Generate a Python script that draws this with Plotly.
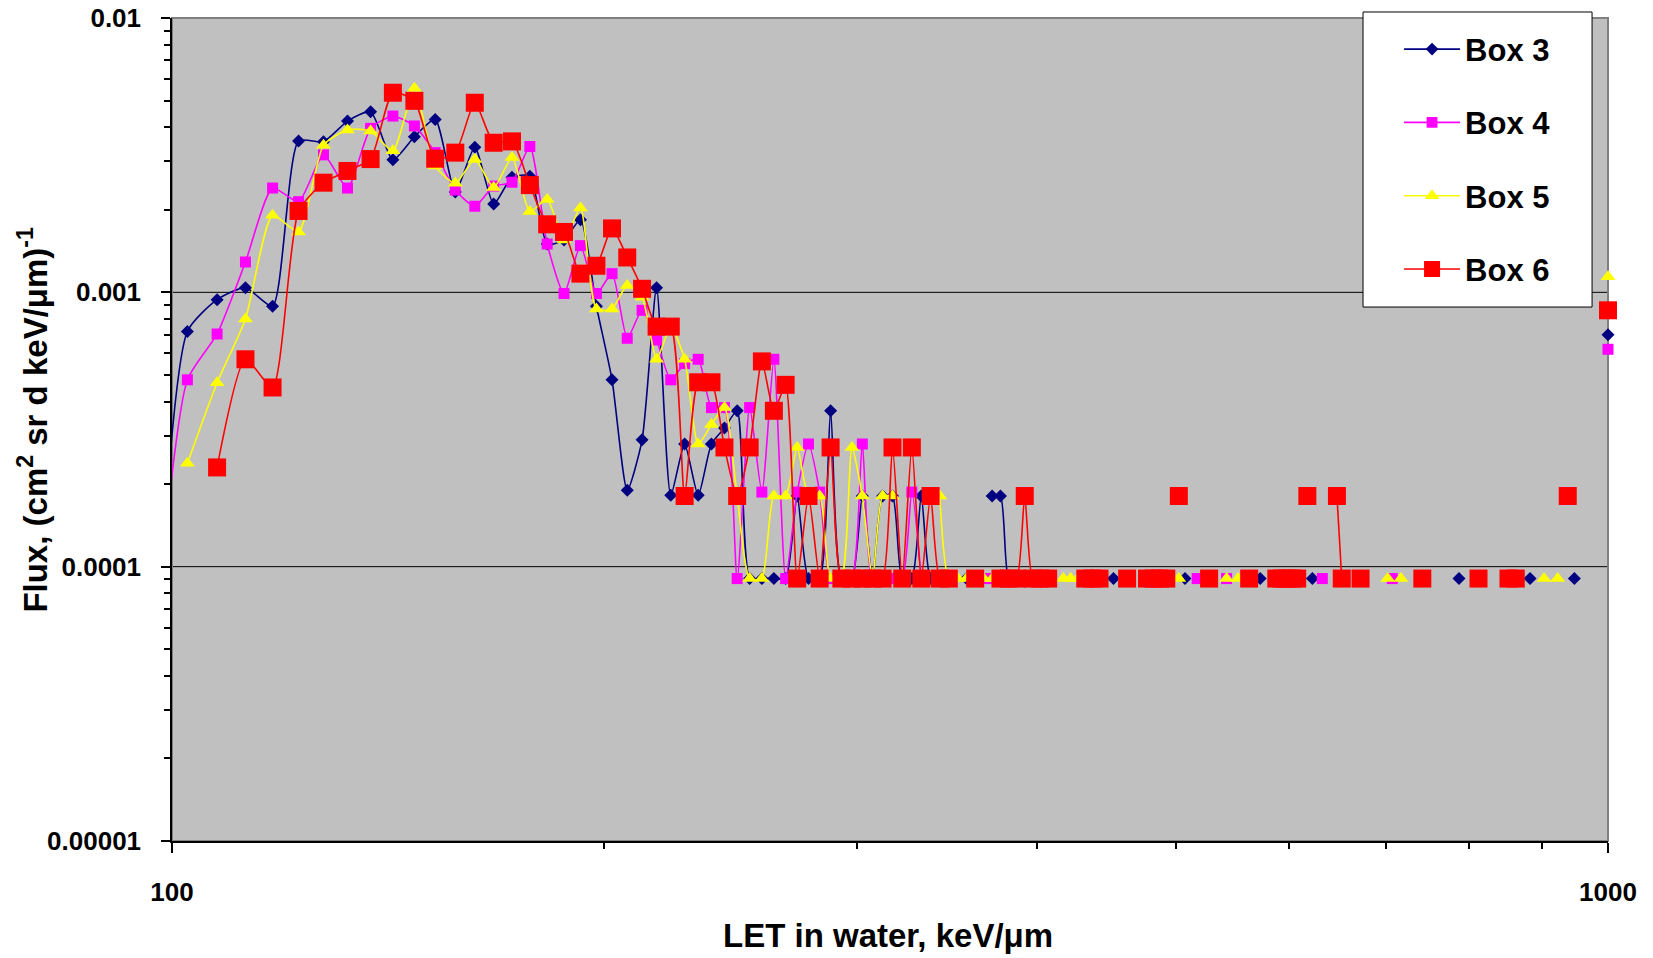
import plotly.graph_objects as go

FONT = "Liberation Sans, Arial, sans-serif"

# ---------------- data (LET bin centre, keV/um  ->  flux) ----------------
box3_let = [97.5, 102.5, 107.5, 112.5, 117.5, 122.5, 127.5, 132.5, 137.5, 142.5, 147.5, 152.5,
            157.5, 162.5, 167.5, 172.5, 177.5, 182.5, 187.5, 192.5, 197.5, 202.5, 207.5, 212.5,
            217.5, 222.5, 227.5, 232.5, 237.5, 242.5, 247.5, 252.5, 257.5, 262.5, 267.5, 272.5,
            277.5, 282.5, 287.5, 292.5, 297.5, 302.5, 307.5, 312.5, 317.5, 322.5, 327.5, 332.5,
            337.5, 342.5, 357.5, 372.5, 377.5, 382.5, 387.5, 452.5, 507.5, 572.5, 622.5, 787.5,
            882.5, 947.5, 1000]
box3_flux = [0.00005, 0.00072, 0.00094, 0.00104, 0.00089, 0.00356, 0.00354, 0.00421, 0.00455, 0.00304, 0.00369, 0.00427,
             0.00232, 0.00338, 0.0021, 0.00263, 0.00265, 0.0015, 0.00155, 0.00184, 0.00089, 0.00048, 0.00019, 0.00029,
             0.00104, 0.000182, 0.00028, 0.000182, 0.00028, 0.00032, 0.00037, 0.0000905, 0.0000905, 0.0000905, 0.0000905, 0.000181,
             0.0000905, 0.0000905, 0.00037, 0.0000905, 0.0000905, 0.000181, 0.0000905, 0.000181, 0.000181, 0.0000905, 0.0000905, 0.000181,
             0.0000905, 0.0000905, 0.0000905, 0.000181, 0.000181, 0.0000905, 0.0000905, 0.0000905, 0.0000905, 0.0000905, 0.0000905, 0.0000905,
             0.0000905, 0.0000905, 0.0007]

box4_let = [97.5, 102.5, 107.5, 112.5, 117.5, 122.5, 127.5, 132.5, 137.5, 142.5, 147.5, 152.5,
            157.5, 162.5, 167.5, 172.5, 177.5, 182.5, 187.5, 192.5, 197.5, 202.5, 207.5, 212.5,
            217.5, 222.5, 227.5, 232.5, 237.5, 242.5, 247.5, 252.5, 257.5, 262.5, 267.5, 272.5,
            277.5, 282.5, 287.5, 292.5, 297.5, 302.5, 307.5, 312.5, 317.5, 322.5, 327.5, 332.5,
            367.5, 372.5, 517.5, 542.5, 632.5, 707.5, 1000]
box4_flux = [0.00006, 0.00048, 0.000705, 0.00129, 0.0024, 0.00214, 0.00317, 0.0024, 0.00396, 0.00439, 0.00404, 0.00323,
             0.00236, 0.00206, 0.00244, 0.00252, 0.0034, 0.0015, 0.00099, 0.00148, 0.00099, 0.00117, 0.00068, 0.00086,
             0.00067, 0.00048, 0.00055, 0.00057, 0.00038, 0.00038, 0.0000905, 0.00038, 0.000187, 0.00057, 0.0000905, 0.000187,
             0.00028, 0.000187, 0.0000905, 0.0000905, 0.0000905, 0.00028, 0.0000905, 0.0000905, 0.0000905, 0.0000905, 0.000187, 0.0000905,
             0.0000905, 0.0000905, 0.0000905, 0.0000905, 0.0000905, 0.0000905, 0.00062]

box5_let = [102.5, 107.5, 112.5, 117.5, 122.5, 127.5, 132.5, 137.5, 142.5, 147.5, 152.5,
            157.5, 162.5, 167.5, 172.5, 177.5, 182.5, 187.5, 192.5, 197.5, 202.5, 207.5, 212.5,
            217.5, 222.5, 227.5, 232.5, 237.5, 242.5, 247.5, 252.5, 257.5, 262.5, 267.5, 272.5,
            277.5, 282.5, 287.5, 292.5, 297.5, 302.5, 307.5, 312.5, 317.5, 342.5, 347.5, 352.5,
            357.5, 362.5, 367.5, 372.5, 417.5, 422.5, 427.5, 502.5, 542.5, 552.5, 702.5, 717.5,
            902.5, 922.5, 1000]
box5_flux = [0.000238, 0.000468, 0.0008, 0.00191, 0.00166, 0.00344, 0.00391, 0.00387, 0.00328, 0.00554, 0.00289,
             0.0025, 0.00305, 0.00241, 0.0031, 0.00197, 0.00218, 0.00155, 0.00203, 0.00087, 0.00087, 0.00106, 0.00096,
             0.00057, 0.00075, 0.00057, 0.00028, 0.00033, 0.00038, 0.00018, 0.0000905, 0.0000905, 0.000181, 0.000181, 0.000272,
             0.000181, 0.000181, 0.0000905, 0.0000905, 0.000272, 0.000181, 0.0000905, 0.000181, 0.000181, 0.000181, 0.0000905, 0.0000905,
             0.0000905, 0.0000905, 0.0000905, 0.0000905, 0.0000905, 0.0000905, 0.0000905, 0.0000905, 0.0000905, 0.0000905, 0.0000905, 0.0000905,
             0.0000905, 0.0000905, 0.00114]

box6_let = [107.5, 112.5, 117.5, 122.5, 127.5, 132.5, 137.5, 142.5, 147.5, 152.5,
            157.5, 162.5, 167.5, 172.5, 177.5, 182.5, 187.5, 192.5, 197.5, 202.5, 207.5, 212.5,
            217.5, 222.5, 227.5, 232.5, 237.5, 242.5, 247.5, 252.5, 257.5, 262.5, 267.5, 272.5,
            277.5, 282.5, 287.5, 292.5, 297.5, 302.5, 307.5, 312.5, 317.5, 322.5, 327.5, 332.5,
            337.5, 342.5, 347.5, 362.5, 377.5, 382.5, 387.5, 392.5, 397.5, 402.5, 407.5, 432.5,
            437.5, 442.5, 462.5, 477.5, 482.5, 487.5, 492.5, 502.5, 527.5, 562.5, 587.5, 592.5,
            597.5, 602.5, 607.5, 617.5, 647.5, 652.5, 672.5, 742.5, 812.5, 852.5, 862.5, 937.5,
            1000]
box6_flux = [0.00023, 0.00057, 0.00045, 0.00198, 0.00251, 0.00277, 0.00306, 0.00534, 0.00499, 0.00307,
             0.00323, 0.00491, 0.00351, 0.00355, 0.00246, 0.00177, 0.00166, 0.00117, 0.00125, 0.00171, 0.00134, 0.00103,
             0.00075, 0.00075, 0.000181, 0.00047, 0.00047, 0.000272, 0.000181, 0.000272, 0.00056, 0.00037, 0.00046, 0.0000905,
             0.000181, 0.0000905, 0.000272, 0.0000905, 0.0000905, 0.0000905, 0.0000905, 0.0000905, 0.000272, 0.0000905, 0.000272, 0.0000905,
             0.000181, 0.0000905, 0.0000905, 0.0000905, 0.0000905, 0.0000905, 0.0000905, 0.000181, 0.0000905, 0.0000905, 0.0000905, 0.0000905,
             0.0000905, 0.0000905, 0.0000905, 0.0000905, 0.0000905, 0.0000905, 0.0000905, 0.000181, 0.0000905, 0.0000905, 0.0000905, 0.0000905,
             0.0000905, 0.0000905, 0.0000905, 0.000181, 0.000181, 0.0000905, 0.0000905, 0.0000905, 0.0000905, 0.0000905, 0.0000905, 0.000181,
             0.00086]

series_names = ["Box 3", "Box 4", "Box 5", "Box 6"]
y_tick_vals = [0.00001, 0.0001, 0.001, 0.01]
y_tick_text = ["0.00001", "0.0001", "0.001", "0.01"]
x_tick_vals = [100, 1000]
x_tick_text = ["100", "1000"]

# ---------------- helpers ----------------
def with_gaps(xs, ys, step=5.0):
    """Empty LET bins are left blank (Excel 'show gaps')."""
    gx, gy = [], []
    for i, (x, y) in enumerate(zip(xs, ys)):
        if i and x - xs[i - 1] > step + 0.01:
            gx.append(None)
            gy.append(None)
        gx.append(x)
        gy.append(y)
    return gx, gy


styles = [
    dict(color="#000080", symbol="diamond", size=10),
    dict(color="#FF00FF", symbol="square", size=11),
    dict(color="#FFFF00", symbol="triangle-up", size=13),
    dict(color="#FF0000", symbol="square", size=18),
]
data = [(box3_let, box3_flux), (box4_let, box4_flux), (box5_let, box5_flux), (box6_let, box6_flux)]

fig = go.Figure()
for name, (xs, ys), st in zip(series_names, data, styles):
    gx, gy = with_gaps(xs, ys)
    sizes = [0 if (x is not None and x < 100) else st["size"] for x in gx]
    fig.add_trace(go.Scatter(
        x=gx, y=gy, name=name, mode="lines+markers",
        legendgroup=name,
        line=dict(color=st["color"], width=1.6, shape="spline", smoothing=0.6),
        marker=dict(color=st["color"], symbol=st["symbol"], size=sizes, opacity=1, line=dict(width=0)),
        connectgaps=False, cliponaxis=False,
    ))

shapes = [
    # decade gridlines (paper fractions of the 3-decade axis)
    dict(type="line", xref="paper", yref="paper", x0=0, x1=1, y0=1 / 3, y1=1 / 3,
         line=dict(color="black", width=1), layer="below"),
    dict(type="line", xref="paper", yref="paper", x0=0, x1=1, y0=2 / 3, y1=2 / 3,
         line=dict(color="black", width=1), layer="below"),
    # plot-area frame (grey top/right edge)
    dict(type="rect", xref="paper", yref="paper", x0=0, x1=1, y0=0, y1=1,
         line=dict(color="#808080", width=2), fillcolor="rgba(0,0,0,0)", layer="below"),
    # legend box
    dict(type="rect", xref="paper", yref="paper", x0=0.8294, x1=0.9889, y0=0.6488, y1=1.0073,
         line=dict(color="black", width=1), fillcolor="white", layer="above"),
]

fig.update_layout(
    width=1653, height=958,
    margin=dict(l=172, r=45, t=18, b=117, autoexpand=False),
    paper_bgcolor="white", plot_bgcolor="#C0C0C0",
    font=dict(family=FONT, color="black"),
    showlegend=True,
    shapes=shapes,
    legend=dict(x=0.8545, xanchor="left", y=0.9946, yanchor="top",
                bgcolor="rgba(0,0,0,0)", borderwidth=0,
                font=dict(family=FONT, size=31, weight="bold", color="black"),
                tracegroupgap=30, itemwidth=56, traceorder="grouped"),
    annotations=[
        dict(text="Flux, (cm<sup>2</sup> sr d keV/μm)<sup>-1</sup>", xref="paper", yref="paper",
             x=-0.0968, y=0.512, xanchor="center", yanchor="middle", textangle=-90, showarrow=False,
             font=dict(family=FONT, size=33, weight="bold", color="black")),
        dict(text="LET in water, keV/μm", xref="paper", yref="paper",
             x=0.4983, y=-0.1154, xanchor="center", yanchor="middle", showarrow=False,
             font=dict(family=FONT, size=33, weight="bold", color="black")),
    ],
)

fig.update_xaxes(
    type="log", range=[2, 3], showline=True, linecolor="black", linewidth=1.5, mirror=False,
    automargin=False,
    tickmode="array", tickvals=x_tick_vals, ticktext=x_tick_text,
    ticks="outside", ticklen=10, tickwidth=1.5, tickcolor="black",
    tickfont=dict(family=FONT, size=26, weight="bold", color="black"), ticklabelstandoff=17,
    showgrid=False, zeroline=False,
    minor=dict(tickmode="array", tickvals=[200, 300, 400, 500, 600, 700, 800, 900],
               ticks="outside", ticklen=6, tickwidth=1.5, tickcolor="black", showgrid=False),
)
fig.update_yaxes(
    type="log", range=[-5, -2], showline=True, linecolor="black", linewidth=1.5, mirror=False,
    automargin=False,
    tickmode="array", tickvals=y_tick_vals, ticktext=y_tick_text,
    ticks="outside", ticklen=9, tickwidth=1.5, tickcolor="black",
    tickfont=dict(family=FONT, size=26, weight="bold", color="black"), ticklabelstandoff=15,
    showgrid=False, zeroline=False,
    minor=dict(tickmode="array",
               tickvals=[m * 10 ** e for e in (-5, -4, -3) for m in (2, 3, 4, 5, 6, 7, 8, 9)],
               ticks="outside", ticklen=6, tickwidth=1.5, tickcolor="black", showgrid=False),
)

fig.write_html("out.html")
